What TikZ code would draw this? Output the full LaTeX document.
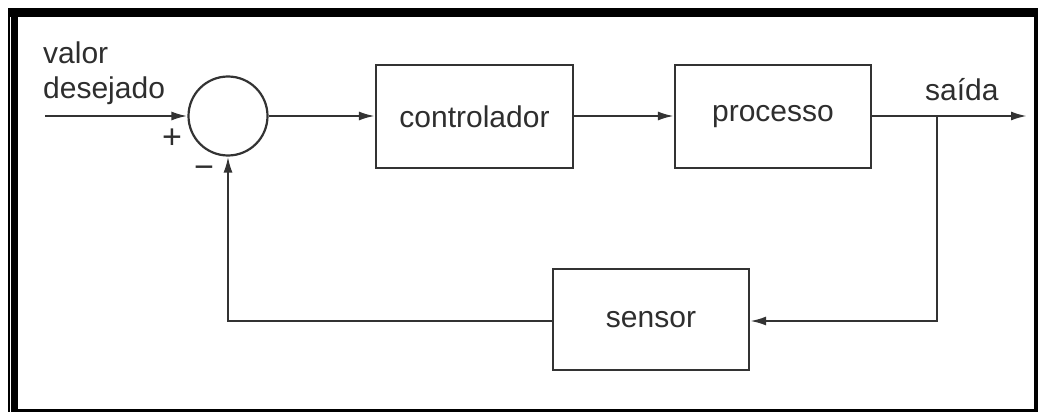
\documentclass[tikz,border=0pt]{standalone}
\usepackage{fontspec}
\setmainfont{Liberation Sans}
\usetikzlibrary{arrows.meta}
\definecolor{ink}{HTML}{333333}
\definecolor{txt}{HTML}{2E2E2E}
\begin{document}
\begin{tikzpicture}[x=1pt,y=-1pt,
  every node/.style={font=\fontsize{30}{35}\selectfont, text=txt},
  blk/.style={draw=ink, line width=2.2pt, rectangle, minimum width=197pt, minimum height=103pt, inner sep=0pt},
  sumnode/.style={draw=ink, line width=2.2pt, circle, minimum size=79pt, inner sep=0pt},
  conn/.style={draw=ink, line width=2.2pt, -{Latex[length=16pt,width=9pt]}},
  wire/.style={draw=ink, line width=2.2pt}
]
\useasboundingbox (0,0) rectangle (1038,412);
\fill[white] (0,0) rectangle (1038,412);
% frame
\fill[black] (7.5,8) rectangle (1038,412);
\fill[white] (9.5,17) rectangle (11,412);
\fill[white] (18,17) rectangle (1033.5,408.5);

% blocks
\node[sumnode] (sum) at (228,116) {};
\node[blk] (ctrl) at (474.5,116.5) {controlador};
\node[blk, minimum width=196pt] (proc) at (773,116.5) {processo};
\node[blk, minimum width=196pt, minimum height=101pt] (sens) at (651,319.5) {sensor};

% free ends
\coordinate (in) at (45,116);
\coordinate (out) at (1027,116);
\coordinate (br) at (937,116);

% labels
\node[anchor=base west, align=left, inner sep=0pt] (ref) at (43,98) {valor\\desejado};
\node[anchor=base west, inner sep=0pt] (outlbl) at (925,100) {saída};
\node[inner sep=0pt, font=\fontsize{34}{35}\selectfont] (plus) at (172,139) {+};
\node[inner sep=0pt, font=\fontsize{34}{35}\selectfont] (minus) at (204,172) {\textminus};

% connectors
\draw[conn] (in) -- (sum.west);
\draw[conn] (sum.east) -- (ctrl.west |- sum.east);
\draw[conn] (ctrl.east |- sum.east) -- (proc.west |- sum.east);
\draw[conn] (proc.east |- sum.east) -- (out);
\draw[conn] (br) |- (sens.east |- 0,321);
\draw[conn] (sens.west |- 0,321) -| (sum.south);
\end{tikzpicture}
\end{document}
